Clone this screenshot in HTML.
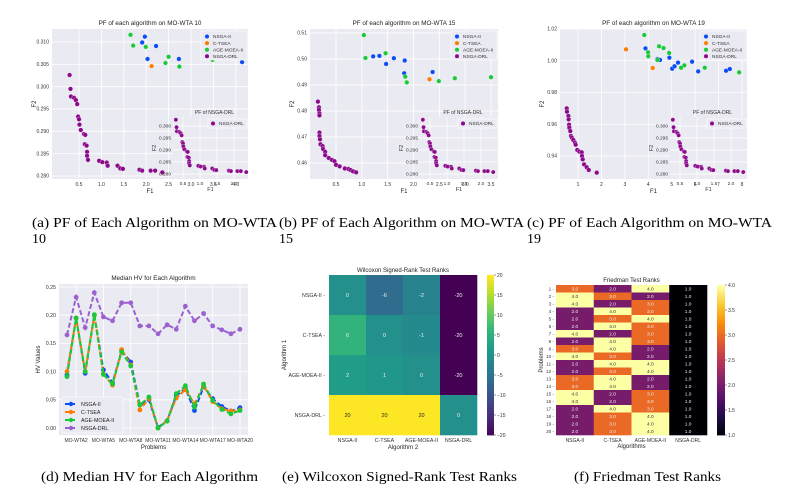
<!DOCTYPE html>
<html><head><meta charset="utf-8">
<style>
html,body{margin:0;padding:0;background:#fff;}
svg{display:block;font-family:"Liberation Sans",sans-serif;}
.cap{font-family:"Liberation Serif",serif;font-size:14px;fill:#000;}
</style></head>
<body>
<svg id="fig" width="810" height="491" viewBox="0 0 810 491" xmlns="http://www.w3.org/2000/svg">
<text class="cap" x="32" y="227" textLength="245" lengthAdjust="spacingAndGlyphs">(a) PF of Each Algorithm on MO-WTA</text>
<text class="cap" x="32" y="243">10</text>
<text class="cap" x="279" y="227" textLength="245" lengthAdjust="spacingAndGlyphs">(b) PF of Each Algorithm on MO-WTA</text>
<text class="cap" x="279" y="243">15</text>
<text class="cap" x="527" y="227" textLength="245" lengthAdjust="spacingAndGlyphs">(c) PF of Each Algorithm on MO-WTA</text>
<text class="cap" x="527" y="243">19</text>
<text class="cap" x="41" y="481" textLength="217" lengthAdjust="spacingAndGlyphs">(d) Median HV for Each Algorithm</text>
<text class="cap" x="282" y="481" textLength="235" lengthAdjust="spacingAndGlyphs">(e) Wilcoxon Signed-Rank Test Ranks</text>
<text class="cap" x="574" y="481" textLength="147" lengthAdjust="spacingAndGlyphs">(f) Friedman Test Ranks</text>
</svg>
<script>
// ---------- data ----------
const algNames = ["NSGA-II","C-TSEA","AGE-MOEA-II","NSGA-DRL"];
// Plot a (MO-WTA 10)
const a_nsga_x=[1.97,1.91,2.22,2.03,2.73,4.14];
const a_nsga_y=[0.3112,0.3099,0.3091,0.3062,0.3062,0.3055];
const a_ctsea_x=[2.12];
const a_ctsea_y=[0.3046];
const a_age_x=[1.65,1.71,1.99,2.5,2.43,2.74,3.48];
const a_age_y=[0.3116,0.3092,0.3089,0.3067,0.3053,0.3045,0.306];
const a_drl_x=[0.29,0.31,0.32,0.39,0.43,0.46,0.48,0.5,0.51,0.54,0.61,0.64,0.63,0.67,0.68,0.68,0.70,0.95,1.02,1.12,1.14,1.36,1.42,1.48,1.85,1.91,2.10,2.20,2.36];
const a_drl_y=[0.3026,0.2995,0.2978,0.2975,0.2970,0.2961,0.2933,0.2927,0.2915,0.2903,0.2894,0.2892,0.2871,0.2868,0.2854,0.2845,0.2836,0.2834,0.2831,0.2830,0.2823,0.2823,0.2817,0.2816,0.2814,0.2812,0.2812,0.2812,0.2808];
// Plot b (MO-WTA 15)
const b_nsga_x=[1.22,1.34,1.47,1.62,1.83,1.82,2.37];
const b_nsga_y=[0.5010,0.5012,0.4981,0.5003,0.4994,0.4945,0.4950];
const b_ctsea_x=[2.31];
const b_ctsea_y=[0.4922];
const b_age_x=[1.04,1.07,1.46,1.84,1.87,2.49,2.80,3.50];
const b_age_y=[0.5092,0.5004,0.5022,0.4932,0.4910,0.4915,0.4926,0.4930];
const b_drl_x=[0.15,0.17,0.17,0.18,0.18,0.18,0.18,0.19,0.20,0.24,0.25,0.29,0.29,0.36,0.42,0.47,0.50,0.57,0.67,0.74,0.78,0.83,0.89];
const b_drl_y=[0.4836,0.4814,0.4804,0.4791,0.4783,0.4717,0.4704,0.4691,0.4672,0.4665,0.4654,0.4643,0.4630,0.4619,0.4612,0.4607,0.4593,0.4587,0.4579,0.4577,0.4573,0.4568,0.4564];
// Plot c (MO-WTA 19)
const c_nsga_x=[3.88,4.39,4.50,4.90,5.02,5.12,5.27,5.87,6.13,7.32,7.48];
const c_nsga_y=[1.0078,1.0011,1.0005,1.0019,0.9950,0.9965,0.9988,0.9994,0.9933,0.9937,0.9948];
const c_ctsea_x=[3.05,4.19];
const c_ctsea_y=[1.0072,0.9954];
const c_age_x=[3.83,3.99,4.0,4.46,4.65,4.89,4.39,5.40,5.54,6.41,7.88];
const c_age_y=[1.0162,1.0053,1.0028,1.0091,1.0080,1.0049,1.0005,0.9956,0.9971,0.9956,0.9927];
const c_drl_x=[0.52,0.53,0.59,0.60,0.62,0.63,0.67,0.70,0.74,0.80,0.87,0.90,0.97,1.06,1.16,1.17,1.20,1.26,1.37,1.46,1.80];
const c_drl_y=[0.9700,0.9679,0.9652,0.9631,0.9597,0.9578,0.9557,0.9526,0.9515,0.9501,0.9484,0.9471,0.9438,0.9427,0.9423,0.9400,0.9379,0.9347,0.9329,0.9312,0.9295];
// HV plot
const hvProblems=["MO-WTA1","MO-WTA2","MO-WTA3","MO-WTA4","MO-WTA5","MO-WTA6","MO-WTA7","MO-WTA8","MO-WTA9","MO-WTA10","MO-WTA11","MO-WTA12","MO-WTA13","MO-WTA14","MO-WTA15","MO-WTA16","MO-WTA17","MO-WTA18","MO-WTA19","MO-WTA20"];
const hvNsga=[0.094,0.195,0.097,0.200,0.103,0.080,0.137,0.117,0.041,0.050,0.001,0.013,0.057,0.070,0.031,0.073,0.052,0.038,0.030,0.036];
const hvCtsea=[0.100,0.195,0.100,0.200,0.096,0.076,0.139,0.112,0.032,0.052,0.000,0.013,0.053,0.068,0.043,0.075,0.047,0.034,0.030,0.032];
const hvAge=[0.091,0.195,0.100,0.201,0.095,0.078,0.135,0.110,0.041,0.055,0.000,0.012,0.061,0.075,0.037,0.078,0.049,0.033,0.025,0.031];
const hvDrl=[0.165,0.232,0.178,0.240,0.197,0.190,0.222,0.222,0.181,0.181,0.167,0.183,0.175,0.216,0.190,0.203,0.181,0.174,0.167,0.175];
const hvTicks=[0,0.05,0.10,0.15,0.20,0.25];
// Wilcoxon
const wilcoxon=[[0,-6,-2,-20],[6,0,-1,-20],[2,1,0,-20],[20,20,20,0]];
const wilcoxonTicks=[20,15,10,5,0,-5,-10,-15,-20];
// Friedman (NSGA-II, C-TSEA, AGE-MOEA-II, NSGA-DRL)
const friedNsga=[3,4,4,2,2,2,4,2,3,4,2,2,3,3,4,4,2,2,2,2];
const friedCtsea=[2,3,2,4,3,4,2,4,4,3,4,3,4,4,2,2,4,3,3,3];
const friedAge=[4,2,3,3,4,3,3,3,2,2,4,4,2,2,3,3,3,4,4,4];
const friedDrl=[1,1,1,1,1,1,1,1,1,1,1,1,1,1,1,1,1,1,1,1];
const friedTicks=[1.0,1.5,2.0,2.5,3.0,3.5,4.0];

// ---------- helpers ----------
const NS="http://www.w3.org/2000/svg";
const svg=document.getElementById('fig');
function mk(tag,attrs,parent,text){
  const e=document.createElementNS(NS,tag);
  for(const k in attrs) e.setAttribute(k,attrs[k]);
  if(text!==undefined) e.textContent=text;
  (parent||svg).appendChild(e);
  return e;
}
function lin(d0,d1,r0,r1){return v=>r0+(v-d0)*(r1-r0)/(d1-d0);}
const COL={nsga:"#0a4cf5",ctsea:"#ff7c00",age:"#1ac938",drl:"#8b0a8b"};

function scatterPlot(name,P){
  const g=mk('g',{});
  
  
  const sx=lin(P.xd[0],P.xd[1],P.xr[0],P.xr[1]), sy=lin(P.yd[0],P.yd[1],P.yr[0],P.yr[1]);
  const bg=mk('rect',{x:P.x0,y:P.y0,width:P.x1-P.x0,height:P.y1-P.y0,fill:"#eaeaf2"},g);
  
  
  P.xt.forEach(t=>{const x=sx(t); if(x<P.x0||x>P.x1) return;
    mk('line',{x1:x,x2:x,y1:P.y0,y2:P.y1,stroke:"#fff","stroke-width":0.8},g);
    const tl=mk('text',{x:x,y:P.y1+7,"font-size":5,fill:"#333","text-anchor":"middle"},g,P.xfmt(t));
    
    });
  P.yt.forEach(t=>{const y=sy(t); if(y<P.y0-0.5||y>P.y1) return;
    mk('line',{x1:P.x0,x2:P.x1,y1:y,y2:y,stroke:"#fff","stroke-width":0.8},g);
    const tl=mk('text',{x:P.x0-3,y:y+1.7,"font-size":5,fill:"#333","text-anchor":"end"},g,P.yfmt(t));
    
    });
  const tt=mk('text',{x:(P.x0+P.x1)/2,y:P.y0-4,"font-size":6.3,fill:"#222","text-anchor":"middle"},g,P.title);
  
  
  const xl=mk('text',{x:(P.x0+P.x1)/2,y:P.y1+14,"font-size":6,fill:"#222","text-anchor":"middle"},g,"F1");
  
  
  const yl=mk('text',{x:0,y:0,"font-size":6,fill:"#222","text-anchor":"middle",transform:`translate(${P.x0-16},${(P.y0+P.y1)/2}) rotate(-90)`},g,"F2");
  
  
  const series=[[P.nx,P.ny,COL.nsga,'nsga-ii-point'],[P.cx,P.cy,COL.ctsea,'c-tsea-point'],[P.ax,P.ay,COL.age,'age-moea-ii-point'],[P.dx,P.dy,COL.drl,'nsga-drl-point']];
  series.forEach(s=>{s[0].forEach((v,i)=>{
    const c=mk('circle',{cx:sx(v),cy:sy(s[1][i]),r:2.3,fill:s[2],stroke:"#fff","stroke-width":0.3},g);
    
    });});
  // legend
  const L=mk('g',{},g);
  
  
  mk('rect',{x:P.x1-47,y:P.y0+2,width:46,height:29,fill:"#eaeaf2",stroke:"#fff","stroke-width":0.6,rx:1},L);
  [COL.nsga,COL.ctsea,COL.age,COL.drl].forEach((c,i)=>{
    const y=P.y0+7.5+i*6.6;
    mk('circle',{cx:P.x1-41,cy:y,r:2,fill:c},L);
    const t=mk('text',{x:P.x1-35,y:y+1.7,"font-size":4.8,fill:"#333"},L,algNames[i]);
    
    
  });
  // inset
  const I=P.inset;
  const ig=mk('g',{},g);
  
  
  const isx=lin(0.5,1.0,I.x0+10,I.x0+27), isy=lin(0.280,0.300,I.y1-5,I.y1-53);
  mk('rect',{x:I.x0,y:I.y0,width:I.x1-I.x0,height:I.y1-I.y0,fill:"#eaeaf2"},ig);
  [0.5,1.0,1.5,2.0].forEach(t=>{const x=isx(t);
    mk('line',{x1:x,x2:x,y1:I.y0,y2:I.y1,stroke:"#fff","stroke-width":0.7},ig);
    mk('text',{x:x,y:I.y1+6,"font-size":4.8,fill:"#333","text-anchor":"middle"},ig,t.toFixed(1));});
  [0.280,0.285,0.290,0.295,0.300].forEach(t=>{const y=isy(t);
    mk('line',{x1:I.x0,x2:I.x1,y1:y,y2:y,stroke:"#fff","stroke-width":0.7},ig);
    mk('text',{x:I.x0-2,y:y+1.6,"font-size":4.8,fill:"#333","text-anchor":"end"},ig,t.toFixed(3));});
  mk('text',{x:(I.x0+I.x1)/2+4,y:I.y0-3,"font-size":5,fill:"#333","text-anchor":"middle"},ig,"PF of NSGA-DRL");
  mk('text',{x:(I.x0+I.x1)/2,y:I.y1+12,"font-size":5.5,fill:"#333","text-anchor":"middle"},ig,"F1");
  mk('text',{x:0,y:0,"font-size":5.5,fill:"#333","text-anchor":"middle",transform:`translate(${I.x0-17},${(I.y0+I.y1)/2}) rotate(-90)`},ig,"F2");
  a_drl_x.forEach((v,i)=>{
    const c=mk('circle',{cx:isx(v),cy:isy(a_drl_y[i]),r:2.1,fill:COL.drl,stroke:"#fff","stroke-width":0.3},ig);
    
    });
  mk('rect',{x:I.x1-40,y:I.y0+2,width:39,height:9,fill:"#eaeaf2",stroke:"#fff","stroke-width":0.6},ig);
  mk('circle',{cx:I.x1-35,cy:I.y0+6.5,r:2,fill:COL.drl},ig);
  mk('text',{x:I.x1-29,y:I.y0+8.2,"font-size":4.8,fill:"#333"},ig,"NSGA-DRL");
}
const f1=t=>t.toFixed(1), f3=t=>t.toFixed(3), f2=t=>t.toFixed(2), f0=t=>String(t);

scatterPlot('pf-mo-wta-10',{x0:52,x1:248,y0:29,y1:179,xd:[0.5,3.0],xr:[79,191],yd:[0.280,0.310],yr:[176,42],
  title:"PF of each algorithm on MO-WTA 10",xt:[0.5,1.0,1.5,2.0,2.5,3.0,3.5,4.0],yt:[0.280,0.285,0.290,0.295,0.300,0.305,0.310],
  xfmt:f1,yfmt:f3,nx:a_nsga_x,ny:a_nsga_y,cx:a_ctsea_x,cy:a_ctsea_y,ax:a_age_x,ay:a_age_y,dx:a_drl_x,dy:a_drl_y,
  inset:{x0:173,x1:248,y0:117,y1:179}});
scatterPlot('pf-mo-wta-15',{x0:310,x1:498,y0:29,y1:179,xd:[0.5,3.5],xr:[336,491],yd:[0.46,0.51],yr:[163,33],
  title:"PF of each algorithm on MO-WTA 15",xt:[0.5,1.0,1.5,2.0,2.5,3.0,3.5],yt:[0.46,0.47,0.48,0.49,0.50,0.51],
  xfmt:f1,yfmt:f2,nx:b_nsga_x,ny:b_nsga_y,cx:b_ctsea_x,cy:b_ctsea_y,ax:b_age_x,ay:b_age_y,dx:b_drl_x,dy:b_drl_y,
  inset:{x0:420,x1:498,y0:117,y1:179}});
scatterPlot('pf-mo-wta-19',{x0:560,x1:747,y0:29,y1:179,xd:[1,8],xr:[578,742],yd:[0.94,1.02],yr:[156,29],
  title:"PF of each algorithm on MO-WTA 19",xt:[1,2,3,4,5,6,7,8],yt:[0.94,0.96,0.98,1.00,1.02],
  xfmt:f0,yfmt:f2,nx:c_nsga_x,ny:c_nsga_y,cx:c_ctsea_x,cy:c_ctsea_y,ax:c_age_x,ay:c_age_y,dx:c_drl_x,dy:c_drl_y,
  inset:{x0:670,x1:747,y0:117,y1:179}});

// ---------- HV line chart ----------
(function(){
  const g=mk('g',{});
  
  
  const x0=59,x1=248,y0=284,y1=435;
  const sx=lin(0,19,67,240), sy=lin(0,0.25,428,287);
  mk('rect',{x:x0,y:y0,width:x1-x0,height:y1-y0,fill:"#eaeaf2"},g);
  hvTicks.forEach(t=>{const y=sy(t);
    mk('line',{x1:x0,x2:x1,y1:y,y2:y,stroke:"#fff","stroke-width":0.8},g);
    const tl=mk('text',{x:x0-3,y:y+1.8,"font-size":5.3,fill:"#333","text-anchor":"end"},g,t.toFixed(2));
    
    });
  hvProblems.forEach((p,i)=>{ if(i%3!==1) return; const x=sx(i);
    mk('line',{x1:x,x2:x,y1:y0,y2:y1,stroke:"#fff","stroke-width":0.8},g);
    const tl=mk('text',{x:x,y:y1+7,"font-size":5,fill:"#333","text-anchor":"middle"},g,p);
    
    });
  mk('text',{x:(x0+x1)/2,y:y0-4,"font-size":6.3,fill:"#222","text-anchor":"middle"},g,"Median HV for Each Algorithm");
  mk('text',{x:(x0+x1)/2,y:y1+14,"font-size":6,fill:"#222","text-anchor":"middle"},g,"Problems");
  mk('text',{x:0,y:0,"font-size":6,fill:"#222","text-anchor":"middle",transform:`translate(${x0-19},${(y0+y1)/2}) rotate(-90)`},g,"HV Values");
  const S=[[hvDrl,"#9b62cf","nsga-drl-line"],[hvNsga,COL.nsga,"nsga-ii-line"],[hvCtsea,COL.ctsea,"c-tsea-line"],[hvAge,"#1ac938","age-moea-ii-line"]];
  S.forEach(s=>{
    const sg=mk('g',{},g);
    
    
    mk('polyline',{points:s[0].map((v,i)=>sx(i)+","+sy(v)).join(" "),fill:"none",stroke:s[1],"stroke-width":2,"stroke-dasharray":"5,2.5"},sg);
    s[0].forEach((v,i)=>{const c=mk('circle',{cx:sx(i),cy:sy(v),r:2.4,fill:s[1]},sg);
      
      });
  });
  const L=mk('g',{},g);
  
  
  mk('rect',{x:62,y:397,width:61,height:36,fill:"#eaeaf2",stroke:"#fff","stroke-width":0.6,rx:1},L);
  [[COL.nsga,"NSGA-II"],[COL.ctsea,"C-TSEA"],["#1ac938","AGE-MOEA-II"],["#9b62cf","NSGA-DRL"]].forEach((e,i)=>{
    const y=404+i*8;
    mk('line',{x1:65,x2:77,y1:y,y2:y,stroke:e[0],"stroke-width":2,"stroke-dasharray":"4,2"},L);
    mk('circle',{cx:71,cy:y,r:2.2,fill:e[0]},L);
    const t=mk('text',{x:81,y:y+1.9,"font-size":5.3,fill:"#222"},L,e[1]);
    
    });
})();

// ---------- colormaps ----------
function interp(stops,t){t=Math.max(0,Math.min(1,t));const n=stops.length-1;const i=Math.min(n-1,Math.floor(t*n));const f=t*n-i;
  const a=stops[i],b=stops[i+1];return `rgb(${Math.round(a[0]+(b[0]-a[0])*f)},${Math.round(a[1]+(b[1]-a[1])*f)},${Math.round(a[2]+(b[2]-a[2])*f)})`;}
const VIR=[[68,1,84],[72,40,120],[62,74,137],[49,104,142],[38,130,142],[31,158,137],[53,183,121],[109,205,89],[180,222,44],[253,231,37]];
const INF=[[0,0,4],[31,12,72],[85,15,109],[136,34,106],[186,54,85],[227,89,51],[249,140,10],[249,201,50],[252,255,164]];

// ---------- Wilcoxon heatmap ----------
(function(){
  const g=mk('g',{});
  
  
  const x0=329,x1=477,y0=275,y1=435,cw=(x1-x0)/4,ch=(y1-y0)/4;
  wilcoxon.forEach((row,r)=>row.forEach((v,c)=>{
    const col=interp(VIR,(v+20)/40);
    const rc=mk('rect',{x:x0+c*cw,y:y0+r*ch,width:cw+0.3,height:ch+0.3,fill:col},g);
    
    
    mk('text',{x:x0+c*cw+cw/2,y:y0+r*ch+ch/2+2,"font-size":5.5,fill:v>=15?"#222":"#eee","text-anchor":"middle"},g,String(v));
  }));
  algNames.forEach((n,i)=>{
    mk('text',{x:x0-4,y:y0+i*ch+ch/2+2,"font-size":5.3,fill:"#333","text-anchor":"end"},g,n+" -");
    mk('text',{x:x0+i*cw+cw/2,y:y1+7,"font-size":5.3,fill:"#333","text-anchor":"middle"},g,n);});
  mk('text',{x:(x0+x1)/2,y:y0-3,"font-size":6,fill:"#222","text-anchor":"middle"},g,"Wilcoxon Signed-Rank Test Ranks");
  mk('text',{x:(x0+x1)/2,y:y1+14,"font-size":6,fill:"#222","text-anchor":"middle"},g,"Algorithm 2");
  mk('text',{x:0,y:0,"font-size":6,fill:"#222","text-anchor":"middle",transform:`translate(286,${(y0+y1)/2}) rotate(-90)`},g,"Algorithm 1");
  const cb=mk('g',{},g);
  
  
  const N=60;for(let i=0;i<N;i++){mk('rect',{x:487,y:y0+i*(y1-y0)/N,width:7,height:(y1-y0)/N+0.4,fill:interp(VIR,1-i/N)},cb);}
  const cs=lin(20,-20,y0,y1);
  wilcoxonTicks.forEach(t=>{const y=cs(t);mk('line',{x1:494,x2:496,y1:y,y2:y,stroke:"#333","stroke-width":0.5},cb);
    mk('text',{x:497,y:y+1.8,"font-size":5,fill:"#333"},cb,String(t).replace('-','\u2212'));});
})();

// ---------- Friedman heatmap ----------
(function(){
  const g=mk('g',{});
  
  
  const x0=556,x1=707,y0=285,y1=435,cols=[friedNsga,friedCtsea,friedAge,friedDrl];
  const cw=(x1-x0)/4,ch=(y1-y0)/20;
  cols.forEach((arr,c)=>arr.forEach((v,r)=>{
    const rc=mk('rect',{x:x0+c*cw,y:y0+r*ch,width:cw+0.3,height:ch+0.3,fill:interp(INF,(v-1)/3)},g);
    
    
    mk('text',{x:x0+c*cw+cw/2,y:y0+r*ch+ch/2+1.7,"font-size":4.8,fill:v>=4?"#333":"#eee","text-anchor":"middle"},g,v.toFixed(1));
  }));
  for(let r=0;r<20;r++) mk('text',{x:x0-2,y:y0+r*ch+ch/2+1.7,"font-size":4.6,fill:"#333","text-anchor":"end"},g,(r+1)+" -");
  algNames.forEach((n,i)=>mk('text',{x:x0+i*cw+cw/2,y:y1+7,"font-size":5,fill:"#333","text-anchor":"middle"},g,n));
  mk('text',{x:(x0+x1)/2,y:y0-3,"font-size":6,fill:"#222","text-anchor":"middle"},g,"Friedman Test Ranks");
  mk('text',{x:(x0+x1)/2,y:y1+13,"font-size":6,fill:"#222","text-anchor":"middle"},g,"Algorithms");
  mk('text',{x:0,y:0,"font-size":6,fill:"#222","text-anchor":"middle",transform:`translate(543,${(y0+y1)/2}) rotate(-90)`},g,"Problems");
  const cb=mk('g',{},g);
  
  
  const N=60;for(let i=0;i<N;i++){mk('rect',{x:717,y:y0+i*(y1-y0)/N,width:8,height:(y1-y0)/N+0.4,fill:interp(INF,1-i/N)},cb);}
  const cs=lin(4,1,y0,y1);
  friedTicks.forEach(t=>{const y=cs(t);mk('line',{x1:725,x2:727,y1:y,y2:y,stroke:"#333","stroke-width":0.5},cb);
    mk('text',{x:728,y:y+1.8,"font-size":5,fill:"#333"},cb,t.toFixed(1));});
})();
</script>
</body></html>
